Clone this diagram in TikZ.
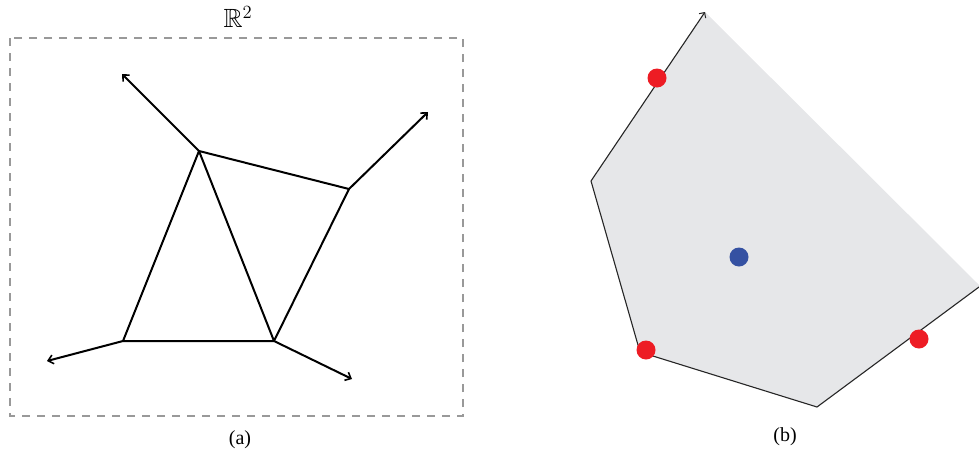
\documentclass[tikz,border=0pt]{standalone}
\usepackage{amssymb}
\usepackage{fontspec}
\newfontfamily\capfont{Liberation Serif}
\usetikzlibrary{arrows.meta}
\definecolor{polyfill}{HTML}{E6E7E9}
\definecolor{dotred}{HTML}{ED1C24}
\definecolor{dotblue}{HTML}{3551A2}
\tikzset{
  edge/.style={line width=2pt, black},
  ray/.style={line width=2pt, black, -{Straight Barb[length=5pt,width=9pt,line width=1.6pt]}},
  thin edge/.style={line width=1.1pt, black!85},
  thin ray/.style={line width=1.1pt, black!85, -{Straight Barb[length=4pt,width=8pt,line width=1pt]}},
  frame/.style={draw=gray!80, line width=1.2pt, dash pattern=on 8pt off 7pt},
  caption/.style={font=\capfont\fontsize{20}{24}\selectfont, inner sep=0pt},
  dotr/.style={circle, fill=dotred, minimum size=19pt, inner sep=0pt},
  dotb/.style={circle, fill=dotblue, minimum size=19pt, inner sep=0pt}
}
\begin{document}
\begin{tikzpicture}[x=1pt,y=-1pt]
\useasboundingbox (0,0) rectangle (979,458);
% ---- panel (a)
\draw[frame] (10,38) rectangle (463,416);
\node[inner sep=0pt] (r2) at (238,17) {\scalebox{1.55}{\fontsize{17}{20}\selectfont$\mathbb{R}^2$}};
\coordinate (A) at (199,151);
\coordinate (B) at (349,189);
\coordinate (C) at (123,341);
\coordinate (D) at (274,341);
\coordinate (Ae) at (122,74);
\coordinate (Be) at (428,112);
\coordinate (Ce) at (47,361);
\coordinate (De) at (352,379);
\draw[edge, line join=round] (A) -- (B) -- (D) -- (C) -- cycle;
\draw[edge] (A) -- (D);
\draw[ray] (A) -- (Ae);
\draw[ray] (B) -- (Be);
\draw[ray] (C) -- (Ce);
\draw[ray] (D) -- (De);
\node[caption] (capa) at (240,440) {(a)};
% ---- panel (b)
\coordinate (P1) at (705,12);
\coordinate (P2) at (591,181);
\coordinate (P3) at (640,352);
\coordinate (P4) at (817,407);
\coordinate (P5) at (979,287);
\fill[polyfill] (P1) -- (P2) -- (P3) -- (P4) -- (P5) -- (979,285) -- cycle;
\draw[thin edge, line join=round] (P2) -- (P3) -- (P4) -- (P5);
\draw[thin ray] (P2) -- (P1);
\node[dotr] (r1) at (657,78) {};
\node[dotr] (r2d) at (646,350) {};
\node[dotr] (r3) at (919,339) {};
\node[dotb] (b1) at (739,257) {};
\node[caption] (capb) at (785,437) {(b)};
\end{tikzpicture}
\end{document}
